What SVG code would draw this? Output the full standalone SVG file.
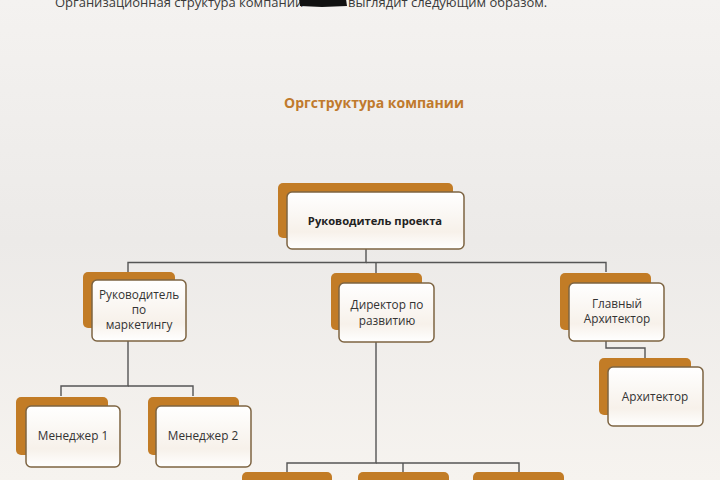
<svg xmlns="http://www.w3.org/2000/svg" width="720" height="480" viewBox="0 0 720 480">
  <defs>
    <linearGradient id="bg" x1="0" y1="0" x2="0" y2="1">
      <stop offset="0" stop-color="#F4F2F0"/>
      <stop offset="0.5" stop-color="#ECEAE8"/>
      <stop offset="1" stop-color="#F6F3EF"/>
    </linearGradient>
    <linearGradient id="front" x1="0" y1="0" x2="0" y2="1">
      <stop offset="0" stop-color="#FFFFFF"/>
      <stop offset="0.7" stop-color="#F7F1EA"/>
      <stop offset="1" stop-color="#FFFFFF"/>
    </linearGradient>
    <style>
      .back { fill: #C27C26; }
      .front { fill: url(#front); stroke: #7D6442; stroke-width: 1.5; }
      .lbl { font-family: "Open Sans", "DejaVu Sans", sans-serif; font-size: 11.8px; fill: #333333; text-anchor: middle; }
      .bold { font-weight: bold; font-size: 11.2px; fill: #222222; }
      .conn { fill: none; stroke: #555555; stroke-width: 1.4; }
      .top { font-family: "Open Sans", "DejaVu Sans", sans-serif; font-size: 13px; fill: #3A3A3A; }
      .title { font-family: "Open Sans", "DejaVu Sans", sans-serif; font-size: 14px; font-weight: bold; fill: #C07A2C; text-anchor: middle; }
    </style>
  </defs>
  <rect width="720" height="480" fill="url(#bg)"/>

  <text class="top" x="55" y="6.5">Организационная структура компании</text>
  <path d="M299 -1 L346 -1 L347 6 L322 7 L300 6 Z" fill="#111111"/>
  <text class="top" x="348" y="6.5">выглядит следующим образом.</text>

  <text class="title" x="374" y="108">Оргструктура компании</text>

  <g id="connectors">
    <path class="conn" d="M366 249 V262.5 H128 V272"/>
    <path class="conn" d="M366 262.5 H606 V272"/>
    <path class="conn" d="M376 262.5 V273"/>
    <path class="conn" d="M128 341 V386 H61 V396"/>
    <path class="conn" d="M128 386 H193 V396"/>
    <path class="conn" d="M376 342 V463 H287 V472"/>
    <path class="conn" d="M376 463 H519 V472"/>
    <path class="conn" d="M403 463 V472"/>
    <path class="conn" d="M606 341 V348 H645 V358"/>
  </g>

  <g id="node-pm">
    <rect class="back" x="278" y="183" width="175" height="55" rx="5"/>
    <rect class="front" x="287" y="192" width="177" height="57" rx="5"/>
    <text class="lbl bold" x="375" y="225">Руководитель проекта</text>
  </g>

  <g id="node-marketing">
    <rect class="back" x="83" y="272" width="92" height="56" rx="5"/>
    <rect class="front" x="92" y="280" width="94" height="61" rx="5"/>
    <text class="lbl" x="139" y="299">Руководитель</text>
    <text class="lbl" x="139" y="314">по</text>
    <text class="lbl" x="139" y="329">маркетингу</text>
  </g>

  <g id="node-director">
    <rect class="back" x="331" y="273" width="91" height="57" rx="5"/>
    <rect class="front" x="339" y="283" width="95" height="59" rx="5"/>
    <text class="lbl" x="387" y="309">Директор по</text>
    <text class="lbl" x="387" y="325">развитию</text>
  </g>

  <g id="node-chief-architect">
    <rect class="back" x="560" y="273" width="91" height="57" rx="5"/>
    <rect class="front" x="569" y="283" width="95" height="58" rx="5"/>
    <text class="lbl" x="617" y="308">Главный</text>
    <text class="lbl" x="617" y="323">Архитектор</text>
  </g>

  <g id="node-architect">
    <rect class="back" x="599" y="358" width="92" height="57" rx="5"/>
    <rect class="front" x="608" y="367" width="95" height="59" rx="5"/>
    <text class="lbl" x="655" y="401">Архитектор</text>
  </g>

  <g id="node-manager1">
    <rect class="back" x="16" y="397" width="92" height="58" rx="5"/>
    <rect class="front" x="26" y="406" width="94" height="61" rx="5"/>
    <text class="lbl" x="73" y="440">Менеджер 1</text>
  </g>

  <g id="node-manager2">
    <rect class="back" x="148" y="397" width="91" height="58" rx="5"/>
    <rect class="front" x="156" y="406" width="95" height="61" rx="5"/>
    <text class="lbl" x="203" y="440">Менеджер 2</text>
  </g>

  <g id="node-sub1">
    <rect class="back" x="242" y="472" width="90" height="20" rx="5"/>
  </g>
  <g id="node-sub2">
    <rect class="back" x="358" y="472" width="91" height="20" rx="5"/>
  </g>
  <g id="node-sub3">
    <rect class="back" x="473" y="472" width="91" height="20" rx="5"/>
  </g>
</svg>
